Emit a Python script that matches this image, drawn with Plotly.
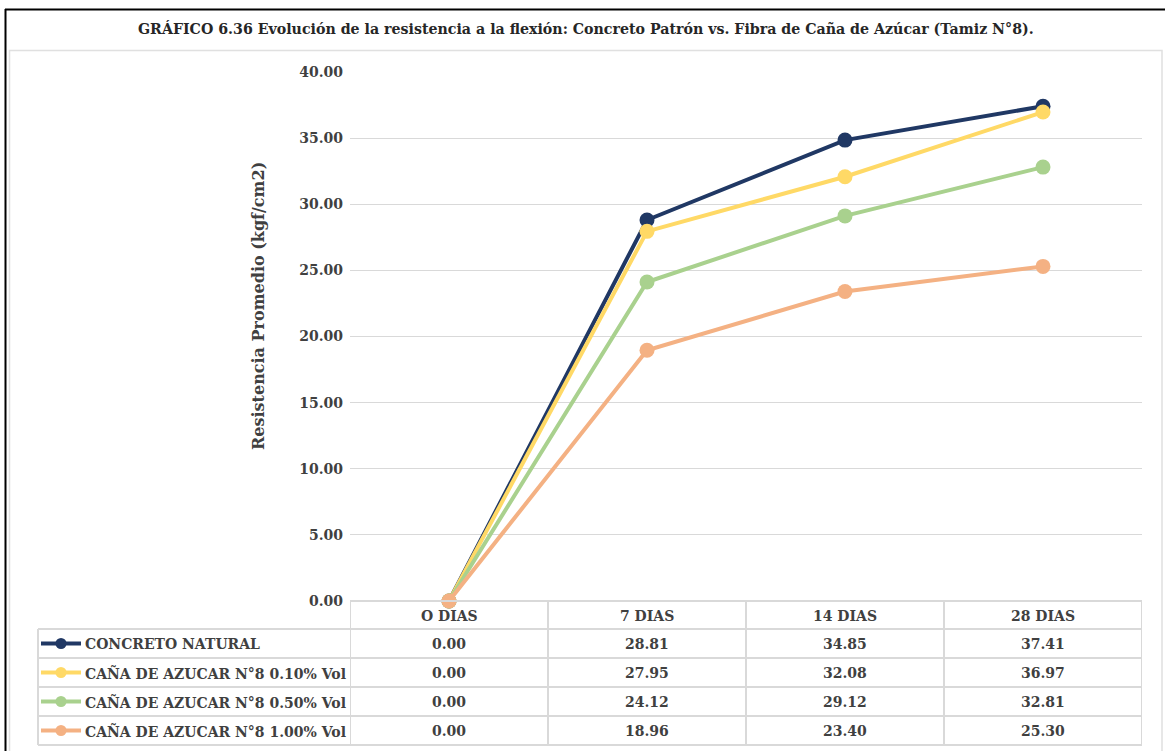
import plotly.graph_objects as go

# ---- data ----
categories = ["O DIAS", "7 DIAS", "14 DIAS", "28 DIAS"]
series_names = [
    "CONCRETO NATURAL",
    "CAÑA DE AZUCAR N°8 0.10% Vol",
    "CAÑA DE AZUCAR N°8 0.50% Vol",
    "CAÑA DE AZUCAR N°8 1.00% Vol",
]
concreto_natural = [0.00, 28.81, 34.85, 37.41]
cana_010 = [0.00, 27.95, 32.08, 36.97]
cana_050 = [0.00, 24.12, 29.12, 32.81]
cana_100 = [0.00, 18.96, 23.40, 25.30]
series_values = [concreto_natural, cana_010, cana_050, cana_100]
series_colors = ["#203864", "#FFD966", "#A9D18E", "#F4B183"]

title_text = ("GRÁFICO 6.36 Evolución de la resistencia a la flexión: Concreto Patrón "
              "vs. Fibra de Caña de Azúcar (Tamiz N°8).")
y_title = "Resistencia Promedio (kgf/cm2)"

# ---- page geometry (pixels) ----
W, H = 1165, 751
PL, PR, PT, PB = 350, 1142, 72, 601          # plot area
FONT = "DejaVu Serif"
TEXT_DARK = "#404040"
GRID = "#D9D9D9"


def px(xp):
    return (xp - PL) / (PR - PL)


def py(yp):
    return (PB - yp) / (PB - PT)


fig = go.Figure()
for name, vals, col in zip(series_names, series_values, series_colors):
    fig.add_trace(go.Scatter(
        x=categories, y=vals, name=name, mode="lines+markers",
        line=dict(color=col, width=4),
        marker=dict(color=col, size=15),
        cliponaxis=False, showlegend=False,
    ))

shapes = []
annotations = []

# outer frame and chart box
shapes.append(dict(type="line", xref="paper", yref="paper", x0=px(5), x1=px(1165),
                   y0=py(9.5), y1=py(9.5), line=dict(color="black", width=2)))
shapes.append(dict(type="line", xref="paper", yref="paper", x0=px(5.5), x1=px(5.5),
                   y0=py(9), y1=py(751), line=dict(color="black", width=2)))
shapes.append(dict(type="rect", xref="paper", yref="paper", x0=px(9.5), x1=px(1162),
                   y0=py(50.5), y1=py(760), line=dict(color="#E0E0E0", width=1.5)))

# data table grid
row_lines = [629, 658, 687, 716, 745]
col_bounds = [-0.5, 0.5, 1.5, 2.5, 3.5]
shapes.append(dict(type="line", xref="x", yref="paper", x0=-0.5, x1=3.5,
                   y0=py(PB), y1=py(PB), line=dict(color=GRID, width=2)))
for yl in row_lines:
    shapes.append(dict(type="line", xref="paper", yref="paper", x0=px(38), x1=1,
                       y0=py(yl), y1=py(yl), line=dict(color=GRID, width=2)))
for xb in col_bounds:
    shapes.append(dict(type="line", xref="x", yref="paper", x0=xb, x1=xb,
                       y0=py(PB), y1=py(row_lines[-1]), line=dict(color=GRID, width=2)))
shapes.append(dict(type="line", xref="paper", yref="paper", x0=px(38), x1=px(38),
                   y0=py(row_lines[0]), y1=py(row_lines[-1]), line=dict(color=GRID, width=2)))

cell_font = dict(family=FONT, size=14, color=TEXT_DARK)

# header row
for cat in categories:
    annotations.append(dict(x=cat, xref="x", y=py(616), yref="paper", text=f"<b>{cat}</b>",
                            xanchor="center", yanchor="middle",
                            showarrow=False, font=cell_font))

# value rows with legend keys
for i, (name, vals, col) in enumerate(zip(series_names, series_values, series_colors)):
    yc = (row_lines[i] + row_lines[i + 1]) / 2
    shapes.append(dict(type="line", xref="paper", yref="paper", x0=px(41), x1=px(81),
                       y0=py(yc), y1=py(yc), line=dict(color=col, width=4)))
    shapes.append(dict(type="circle", xref="paper", yref="paper", x0=px(55.5), x1=px(66.5),
                       y0=py(yc - 5.5), y1=py(yc + 5.5), fillcolor=col,
                       line=dict(color=col, width=0)))
    annotations.append(dict(x=px(83), xref="paper", y=py(yc), yref="paper",
                            text=f"<b>{name}</b>", showarrow=False,
                            xanchor="left", yanchor="middle", font=cell_font))
    for cat, v in zip(categories, vals):
        annotations.append(dict(x=cat, xref="x", y=py(yc), yref="paper",
                                text=f"<b>{v:.2f}</b>", showarrow=False,
                                xanchor="center", yanchor="middle", font=cell_font))

# title and y-axis title
annotations.append(dict(x=px(586), xref="paper", y=py(29), yref="paper",
                        text=f"<b>{title_text}</b>", showarrow=False,
                        xanchor="center", yanchor="middle",
                        font=dict(family=FONT, size=14.2, color="#262626")))
annotations.append(dict(x=px(258), xref="paper", y=py(306), yref="paper",
                        text=f"<b>{y_title}</b>", showarrow=False, textangle=-90,
                        xanchor="center", yanchor="middle",
                        font=dict(family=FONT, size=16, color=TEXT_DARK)))

fig.update_layout(
    width=W, height=H,
    margin=dict(l=PL, r=W - PR, t=PT, b=H - PB, pad=0),
    paper_bgcolor="white", plot_bgcolor="white",
    shapes=shapes, annotations=annotations,
    xaxis=dict(type="category", range=[-0.5, 3.5], showticklabels=False,
               showgrid=False, zeroline=False, showline=False, ticks=""),
    yaxis=dict(range=[0, 40], dtick=5, tick0=0, tickformat=".2f",
               showgrid=True, gridcolor=GRID, gridwidth=1, zeroline=False,
               showline=False, ticks="", ticklabelstandoff=6,
               tickprefix="<b>", ticksuffix="</b>",
               tickfont=dict(family=FONT, size=14, color=TEXT_DARK)),
)

fig.write_html("out.html")
